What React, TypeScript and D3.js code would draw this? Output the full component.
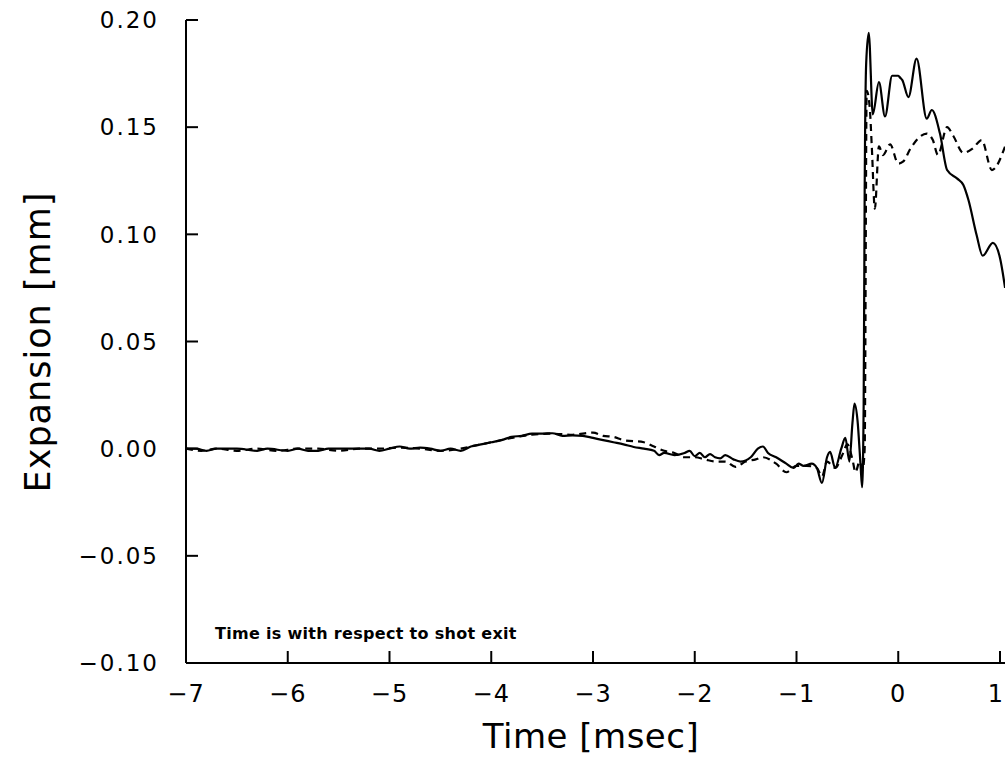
import React from "react";
import * as d3 from "d3";

// Axis ticks
const xTicks = [-7, -6, -5, -4, -3, -2, -1, 0, 1];
const yTicks = [-0.1, -0.05, 0, 0.05, 0.1, 0.15, 0.2];
const xTickLabels = ["\u22127", "\u22126", "\u22125", "\u22124", "\u22123", "\u22122", "\u22121", "0", "1"];
const yTickLabels = ["\u22120.10", "\u22120.05", "0.00", "0.05", "0.10", "0.15", "0.20"];

// Solid series (time in msec, expansion in mm)
const solidTime = [
  -7.0, -6.9, -6.8, -6.7, -6.5, -6.3, -6.2, -6.0, -5.9, -5.8, -5.7, -5.6, -5.4, -5.2, -5.1, -5.0,
  -4.9, -4.8, -4.7, -4.6, -4.5, -4.4, -4.3, -4.2, -4.1, -4.0, -3.9, -3.8, -3.7, -3.6, -3.5, -3.4,
  -3.3, -3.2, -3.1, -3.0, -2.9, -2.8, -2.7, -2.6, -2.5, -2.4, -2.35, -2.3, -2.2, -2.1, -2.05, -2.0,
  -1.95, -1.9, -1.85, -1.8, -1.75, -1.7, -1.62, -1.55, -1.45, -1.38, -1.33, -1.28, -1.2, -1.1,
  -1.03, -0.98, -0.93, -0.85, -0.8, -0.75, -0.7, -0.67, -0.62, -0.56, -0.52, -0.48, -0.45, -0.43,
  -0.4, -0.37, -0.355, -0.34, -0.33, -0.315, -0.29, -0.25, -0.19, -0.13, -0.06, 0.0, 0.02, 0.04,
  0.1, 0.18, 0.28, 0.33, 0.41, 0.48, 0.58, 0.64, 0.69, 0.77, 0.83, 0.93, 1.0, 1.05,
];
const solidValue = [
  0, 0, -0.001, 0, 0, -0.001, 0, -0.001, 0, -0.001, -0.001, 0, 0, 0, -0.001, 0,
  0.001, 0, 0.0005, 0, -0.001, 0, -0.001, 0.001, 0.002, 0.003, 0.004, 0.0055, 0.006, 0.007, 0.007, 0.0072,
  0.006, 0.0062, 0.006, 0.005, 0.004, 0.003, 0.002, 0.0008, 0.0, -0.001, -0.003, -0.002, -0.003, -0.002, -0.001, -0.0035,
  -0.002, -0.004, -0.0025, -0.004, -0.0045, -0.003, -0.005, -0.006, -0.004, 0.0, 0.001, -0.002, -0.004, -0.007,
  -0.009, -0.007, -0.008, -0.007, -0.009, -0.016, -0.004, -0.0015, -0.009, 0.0, 0.005, -0.006, 0.012, 0.021,
  0.013, -0.008, -0.018, 0.02, 0.12, 0.18, 0.194, 0.156, 0.171, 0.155, 0.174, 0.174, 0.173, 0.172,
  0.164, 0.182, 0.154, 0.158, 0.147, 0.13, 0.126, 0.123, 0.116, 0.0997, 0.09, 0.096, 0.089, 0.075,
];

// Dashed series
const dashedTime = [
  -7.0, -6.85, -6.7, -6.5, -6.3, -6.1, -5.9, -5.7, -5.5, -5.3, -5.1, -4.9, -4.7, -4.5, -4.3,
  -4.2, -4.0, -3.8, -3.6, -3.4, -3.2, -3.0, -2.9, -2.8, -2.7, -2.5, -2.4, -2.3, -2.2, -2.1, -2.0,
  -1.9, -1.8, -1.7, -1.6, -1.5, -1.4, -1.33, -1.2, -1.1, -1.0, -0.9, -0.8, -0.75, -0.7, -0.62,
  -0.55, -0.5, -0.45, -0.42, -0.38, -0.35, -0.33, -0.31, -0.28, -0.26, -0.23, -0.19, -0.15, -0.08,
  0.0, 0.05, 0.12, 0.28, 0.34, 0.39, 0.48, 0.54, 0.64, 0.73, 0.82, 0.92, 1.05,
];
const dashedValue = [
  0, -0.001, 0, -0.001, 0, -0.001, 0, 0, -0.001, 0, 0, 0.0005, 0, -0.001, 0,
  0.001, 0.003, 0.005, 0.0065, 0.007, 0.0065, 0.0075, 0.006, 0.0055, 0.004, 0.003, 0.001, -0.001, -0.002, -0.004, -0.004,
  -0.005, -0.006, -0.006, -0.0085, -0.006, -0.005, -0.004, -0.007, -0.011, -0.008, -0.008, -0.009, -0.013, -0.006, -0.009,
  -0.003, 0.002, -0.005, -0.011, -0.006, -0.01, 0.0, 0.167, 0.159, 0.141, 0.112, 0.141, 0.137, 0.142,
  0.133, 0.134, 0.14, 0.147, 0.144, 0.137, 0.15, 0.146, 0.138, 0.14, 0.144, 0.13, 0.141,
];

const FONT = "'DejaVu Sans', sans-serif";

export default function App() {
  const W = 1005;
  const H = 764;
  const x = d3.scaleLinear().domain([-7, 1]).range([186, 1000]);
  const y = d3.scaleLinear().domain([-0.1, 0.2]).range([663, 20]);

  const solidPts: [number, number][] = solidTime.map((t, i) => [x(t), y(solidValue[i])]);
  const dashedPts: [number, number][] = dashedTime.map((t, i) => [x(t), y(dashedValue[i])]);
  const gen = d3.line().curve(d3.curveMonotoneX);
  const solidPath = gen(solidPts) || "";
  const dashedPath = gen(dashedPts) || "";

  const x0 = x(-7);
  const y0 = y(-0.1);
  const tickLen = 12;

  return (
    <svg
      width={W}
      height={H}
      style={{ position: "absolute", left: 0, top: 0, background: "#fff" }}
      fontFamily={FONT}
    >
      <rect x={0} y={0} width={W} height={H} fill="#fff" />
      <defs>
        <clipPath id="plot">
          <rect x={x0} y={0} width={W - x0} height={y0} />
        </clipPath>
      </defs>
      {/* axes */}
      <line x1={x0} y1={y(0.2)} x2={x0} y2={y0} stroke="#000" strokeWidth={2} />
      <line x1={x0} y1={y0} x2={W} y2={y0} stroke="#000" strokeWidth={2} />
      {yTicks.map((v, i) => (
        <g key={"yt" + i}>
          <line x1={x0} x2={x0 + tickLen} y1={y(v)} y2={y(v)} stroke="#000" strokeWidth={2} />
          <text x={159} y={y(v)} dy="0.36em" textAnchor="end" fontSize={23} letterSpacing={2}>
            {yTickLabels[i]}
          </text>
        </g>
      ))}
      {xTicks.map((v, i) => (
        <g key={"xt" + i}>
          <line x1={x(v)} x2={x(v)} y1={y0} y2={y0 - tickLen} stroke="#000" strokeWidth={2} />
          <text x={Math.min(x(v), 996)} y={702} textAnchor="middle" fontSize={24} letterSpacing={1}>
            {xTickLabels[i]}
          </text>
        </g>
      ))}
      {/* data */}
      <g clipPath="url(#plot)">
        <path d={solidPath} fill="none" stroke="#000" strokeWidth={2.2} strokeLinejoin="round" />
        <path
          d={dashedPath}
          fill="none"
          stroke="#000"
          strokeWidth={2.2}
          strokeDasharray="7,5"
          strokeLinejoin="round"
        />
      </g>
      {/* annotation */}
      <text x={215} y={639} fontSize={16} fontWeight="600" letterSpacing={0.3}>
        Time is with respect to shot exit
      </text>
      {/* axis titles */}
      <text x={591} y={748} textAnchor="middle" fontSize={34} letterSpacing={0.5}>
        Time [msec]
      </text>
      <text
        transform={`translate(50, 342) rotate(-90)`}
        textAnchor="middle"
        fontSize={35}
        letterSpacing={1}
      >
        Expansion [mm]
      </text>
    </svg>
  );
}
